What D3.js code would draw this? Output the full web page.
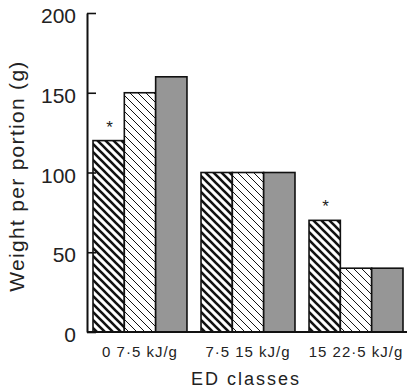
<!DOCTYPE html>
<html lang="en">
<head>
<meta charset="utf-8">
<title>Weight per portion by ED class</title>
<script src="https://d3js.org/d3.v7.min.js"></script>
<style>
  * { margin:0; padding:0; box-sizing:border-box; }
  body { background:#fff; width:407px; height:390px; overflow:hidden; }
  svg { display:block; font-family:'Liberation Sans', Arial, sans-serif; }
  .tick-label { font-size:21px; fill:#222; }
  .x-label { font-size:15px; fill:#222; letter-spacing:1px; }
</style>
</head>
<body>
<div id="chart"></div>
<script>
const groups = ['0 7·5 kJ/g', '7·5 15 kJ/g', '15 22·5 kJ/g'];
const series = ['a', 'b', 'c'];
const valuesA = [120, 100, 70];
const valuesB = [150, 100, 40];
const valuesC = [160, 100, 40];
const starred = [true, false, true];   // asterisk above series a
const yTicks = [0, 50, 100, 150, 200];

const W = 407, H = 390;
const axisX = 87;

const svg = d3.select('#chart').append('svg')
  .attr('width', W).attr('height', H);

// hatch patterns
const defs = svg.append('defs');
function hatch(id, sw) {
  const p = defs.append('pattern')
    .attr('id', id).attr('patternUnits', 'userSpaceOnUse')
    .attr('width', 8).attr('height', 8);
  p.append('rect').attr('width', 8).attr('height', 8).attr('fill', '#fff');
  p.append('path')
    .attr('d', 'M-2,-2 L10,10 M-6,2 L2,10 M6,-2 L10,2')
    .attr('stroke', '#111').attr('stroke-width', sw);
}
hatch('thick', 2.6);
hatch('thin', 1);
const fills = { a: 'url(#thick)', b: 'url(#thin)', c: '#969696' };

const y = d3.scaleLinear().domain([0, 200]).range([332, 13]);
const x0 = d3.scaleBand().domain(groups).range([93, 403]).paddingInner(0.13).paddingOuter(0);
const x1 = d3.scaleBand().domain(series).range([0, x0.bandwidth()]);

const rows = groups.map((g, i) => ({
  group: g, star: starred[i],
  vals: [
    { key: 'a', v: valuesA[i] },
    { key: 'b', v: valuesB[i] },
    { key: 'c', v: valuesC[i] }
  ]
}));

const gGroups = svg.append('g').selectAll('g')
  .data(rows).join('g')
  .attr('transform', d => `translate(${x0(d.group)},0)`);

gGroups.selectAll('rect')
  .data(d => d.vals).join('rect')
  .attr('x', d => x1(d.key))
  .attr('y', d => y(d.v))
  .attr('width', x1.bandwidth())
  .attr('height', d => y(0) - y(d.v))
  .attr('fill', d => fills[d.key])
  .attr('stroke', '#111').attr('stroke-width', 1.6);

gGroups.filter(d => d.star).append('text')
  .attr('x', x1('a') + x1.bandwidth() / 2 + 1)
  .attr('y', d => y(d.vals[0].v) - 8)
  .attr('text-anchor', 'middle')
  .attr('font-size', 17).attr('fill', '#222')
  .text('*');

// y axis (ticks point inward)
const yAxis = svg.append('g').attr('transform', `translate(${axisX},0)`)
  .call(d3.axisRight(y).tickValues(yTicks).tickSize(9).tickSizeOuter(0).tickFormat(''));
yAxis.select('.domain').attr('stroke', '#111').attr('stroke-width', 2);
yAxis.selectAll('.tick line').attr('stroke', '#111').attr('stroke-width', 1.6);

svg.append('g').selectAll('text')
  .data(yTicks).join('text')
  .attr('class', 'tick-label')
  .attr('x', 76).attr('y', d => y(d) + 10)
  .attr('text-anchor', 'end')
  .text(d => d);

// baseline
svg.append('line')
  .attr('x1', axisX).attr('x2', W)
  .attr('y1', y(0)).attr('y2', y(0))
  .attr('stroke', '#111').attr('stroke-width', 2);

// x labels
svg.append('g').selectAll('text')
  .data(groups).join('text')
  .attr('class', 'x-label')
  .attr('x', d => x0(d) + x0.bandwidth() / 2)
  .attr('y', 357)
  .attr('text-anchor', 'middle')
  .text(d => d);

svg.append('text')
  .attr('x', 246).attr('y', 385)
  .attr('text-anchor', 'middle')
  .attr('font-size', 18).attr('letter-spacing', 2).attr('fill', '#222')
  .text('ED classes');

svg.append('text')
  .attr('transform', 'translate(24,176) rotate(-90)')
  .attr('text-anchor', 'middle')
  .attr('font-size', 21).attr('letter-spacing', 1.3).attr('fill', '#222')
  .text('Weight per portion (g)');
</script>
</body>
</html>
